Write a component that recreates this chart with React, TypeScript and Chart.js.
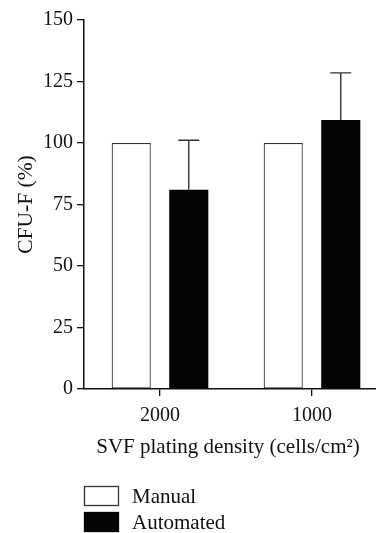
import React, { useEffect, useRef } from 'react';
import { Chart, registerables } from 'chart.js';

Chart.register(...registerables);

const categories = ['2000', '1000'];
const seriesNames = ['Manual', 'Automated'];
const manualValues = [100, 100];
const automatedValues = [81, 109.4];
const automatedErrors = [20.1, 19.1];
const yTickValues = [0, 25, 50, 75, 100, 125, 150];
const xTitle = 'SVF plating density (cells/cm\u00B2)';
const yTitle = 'CFU-F (%)';

const FONT = '"Liberation Serif", "Times New Roman", serif';

const errorBarPlugin = {
  id: 'errorBars',
  afterDatasetsDraw(chart: any) {
    const ctx = chart.ctx;
    const yScale = chart.scales.y;
    chart.data.datasets.forEach((ds: any, di: number) => {
      const errs = ds.errors;
      if (!errs) return;
      const meta = chart.getDatasetMeta(di);
      meta.data.forEach((bar: any, i: number) => {
        const v = ds.data[i];
        const e = errs[i];
        const yTop = yScale.getPixelForValue(v + e);
        ctx.save();
        ctx.strokeStyle = '#333';
        ctx.lineWidth = 1.4;
        ctx.beginPath();
        ctx.moveTo(bar.x, bar.y);
        ctx.lineTo(bar.x, yTop);
        ctx.moveTo(bar.x - 10.5, yTop);
        ctx.lineTo(bar.x + 10.5, yTop);
        ctx.stroke();
        ctx.restore();
      });
    });
  },
};

const xTitlePlugin = {
  id: 'xTitle',
  afterDraw(chart: any, _args: any, opts: any) {
    const ctx = chart.ctx;
    ctx.save();
    ctx.fillStyle = '#111';
    ctx.font = `${opts.fontSize}px ${FONT}`;
    ctx.textAlign = 'center';
    ctx.textBaseline = 'middle';
    ctx.fillText(opts.text, opts.centerX, opts.centerY);
    ctx.restore();
  },
};

const stackedLegendPlugin = {
  id: 'stackedLegend',
  afterDraw(chart: any, _args: any, opts: any) {
    const ctx = chart.ctx;
    const x = chart.chartArea.left + (opts.dx || 0);
    let y = opts.top;
    ctx.save();
    chart.data.datasets.forEach((ds: any) => {
      ctx.fillStyle = ds.backgroundColor;
      ctx.fillRect(x, y, opts.boxWidth, opts.boxHeight);
      ctx.strokeStyle = ds.borderColor;
      ctx.lineWidth = 1.3;
      ctx.strokeRect(x + 0.5, y + 0.5, opts.boxWidth - 1, opts.boxHeight - 1);
      ctx.fillStyle = '#111';
      ctx.font = `${opts.fontSize}px ${FONT}`;
      ctx.textBaseline = 'middle';
      ctx.textAlign = 'left';
      ctx.fillText(ds.label, x + opts.boxWidth + 13, y + opts.boxHeight / 2 + 1);
      y += opts.boxHeight + opts.gap;
    });
    ctx.restore();
  },
};

export default function App() {
  const ref = useRef<HTMLCanvasElement | null>(null);

  useEffect(() => {
    if (!ref.current) return;
    const chart = new Chart(ref.current, {
      type: 'bar',
      data: {
        labels: categories,
        datasets: [
          {
            label: seriesNames[0],
            data: manualValues,
            backgroundColor: '#ffffff',
            borderColor: '#333333',
            borderWidth: 1.2,
            borderSkipped: false,
            categoryPercentage: 0.757,
            barPercentage: 0.68,
          } as any,
          {
            label: seriesNames[1],
            data: automatedValues,
            errors: automatedErrors,
            backgroundColor: '#050505',
            borderColor: '#050505',
            borderWidth: 0,
            categoryPercentage: 0.757,
            barPercentage: 0.68,
          } as any,
        ],
      },
      options: {
        responsive: false,
        animation: false,
        layout: { padding: { top: 20, right: 2, bottom: 74, left: 0 } },
        plugins: {
          legend: { display: false },
          tooltip: { enabled: false },
          xTitle: { text: xTitle, centerX: 228, centerY: 447, fontSize: 21 },
          stackedLegend: { top: 486, boxWidth: 35, boxHeight: 20, gap: 6, fontSize: 21 },
        } as any,
        scales: {
          x: {
            offset: true,
            grid: { offset: false, drawOnChartArea: false, drawTicks: true, tickLength: 7, color: '#111', lineWidth: 1.3 },
            border: { color: '#111', width: 1.5 },
            ticks: { color: '#111', padding: 8, font: { family: FONT, size: 20 } },
            title: { display: false },
            afterFit: (s: any) => { s.height = 70; },
          },
          y: {
            min: 0,
            max: 150,
            afterBuildTicks: (s: any) => { s.ticks = yTickValues.map((v) => ({ value: v })); },
            grid: { drawOnChartArea: false, drawTicks: true, tickLength: 7, color: '#111', lineWidth: 1.3 },
            border: { color: '#111', width: 1.5 },
            ticks: { color: '#111', padding: 4, font: { family: FONT, size: 20 } },
            title: { display: true, text: yTitle, color: '#111', padding: { top: 13, bottom: 0 }, font: { family: FONT, size: 21.5 } },
            afterFit: (s: any) => { s.width = 84; },
          },
        },
      },
      plugins: [errorBarPlugin, xTitlePlugin, stackedLegendPlugin],
    });
    return () => chart.destroy();
  }, []);

  return (
    <div style={{ position: 'fixed', left: 0, top: 0, width: 376, height: 533, overflow: 'hidden', background: '#fff' }}>
      <canvas ref={ref} width={390} height={533} style={{ display: 'block', width: 390, height: 533 }} />
    </div>
  );
}
